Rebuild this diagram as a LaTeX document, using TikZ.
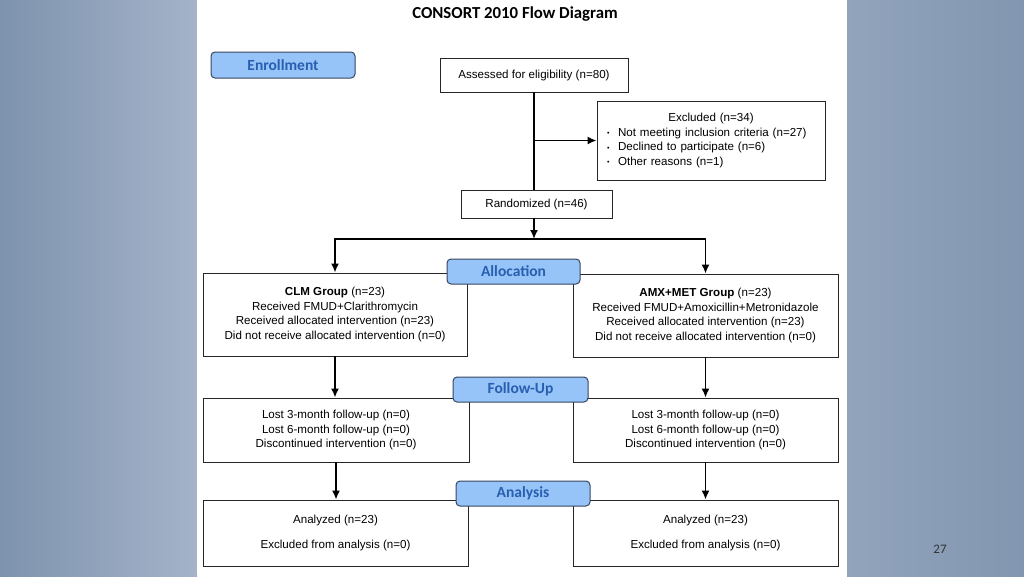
\documentclass[tikz,border=0pt]{standalone}
\usepackage{fontspec}
\setmainfont{Liberation Sans}
\newfontfamily\calibri{Carlito}
\usetikzlibrary{arrows.meta}
\definecolor{slatebg}{RGB}{126,147,174}
\definecolor{slatelight}{RGB}{164,179,201}
\definecolor{slatemid}{RGB}{146,164,188}
\definecolor{phasefill}{RGB}{150,195,248}
\definecolor{phasetext}{RGB}{40,95,175}
\definecolor{phaseline}{RGB}{55,70,95}
\newcommand{\exclbullet}{\makebox[11pt][l]{\raisebox{0.5pt}{\scriptsize\textbullet}}}
\tikzset{
	box/.style={draw=black!85, line width=0.9pt, fill=white, align=center, font=\fontsize{11.6}{14.5}\selectfont},
	phase/.style={draw=phaseline, line width=1pt, fill=phasefill, rounded corners=4pt, text=phasetext, font=\calibri\bfseries\fontsize{15.5}{17}\selectfont, minimum height=25pt},
	flow/.style={line width=1.7pt, -{Latex[length=9pt,width=8pt]}}
}
\begin{document}
\begin{tikzpicture}[x=1pt, y=-1pt]
	\useasboundingbox (0,0) rectangle (1024,576);
	\shade[left color=slatebg, right color=slatelight] (0,0) rectangle (197,576);
	\shade[left color=slatemid, right color=slatebg!90!slatelight] (847,0) rectangle (1024,576);
	\fill[white] (197,0) rectangle (847,573);
	\node[font=\calibri\bfseries\fontsize{16.8}{19}\selectfont] (title) at (515,14) {CONSORT 2010 Flow Diagram};
	\node[text=black!80, font=\calibri\fontsize{13}{14}\selectfont] (page) at (940,549) {27};

	\node[box, minimum width=188pt, minimum height=34pt] (assess) at (534,75) {Assessed for eligibility (n=80)};
	\node[box, minimum width=228pt, minimum height=79pt, text width=208pt, inner xsep=10pt, align=left] (excl) at (711,140.5) {\centering Excluded (n=34)\par\raggedright
		\exclbullet Not meeting inclusion criteria (n=27)\\
		\exclbullet Declined to participate (n=6)\\
		\exclbullet Other reasons (n=1)};
	\node[box, minimum width=151pt, minimum height=28pt] (rand) at (536.5,204) {Randomized (n=46)};
	\node[box, minimum width=264pt, minimum height=83pt] (clm) at (335,314.5) {\textbf{CLM Group} (n=23)\\Received FMUD+Clarithromycin\\Received allocated intervention (n=23)\\Did not receive allocated intervention (n=0)};
	\node[box, minimum width=265pt, minimum height=83pt] (amx) at (705.5,315.5) {\textbf{AMX+MET Group} (n=23)\\Received FMUD+Amoxicillin+Metronidazole\\Received allocated intervention (n=23)\\Did not receive allocated intervention (n=0)};
	\node[box, minimum width=266pt, minimum height=64pt] (fupl) at (336,430) {Lost 3-month follow-up (n=0)\\Lost 6-month follow-up (n=0)\\Discontinued intervention (n=0)};
	\node[box, minimum width=265pt, minimum height=64pt] (fupr) at (705.5,430) {Lost 3-month follow-up (n=0)\\Lost 6-month follow-up (n=0)\\Discontinued intervention (n=0)};
	\node[box, minimum width=265pt, minimum height=66pt] (anal) at (335.5,533) {Analyzed (n=23)\\[10pt]Excluded from analysis (n=0)};
	\node[box, minimum width=265pt, minimum height=66pt] (anar) at (705.5,533) {Analyzed (n=23)\\[10pt]Excluded from analysis (n=0)};

	\coordinate (split) at (534,239);
	\draw[line width=1.7pt] (assess.south) -- (assess.south |- rand.north);
	\draw[flow] (assess.south |- excl.west) -- (excl.west);
	\draw[flow] (split |- rand.south) -- (split);
	\draw[flow] (split) -| (clm.north);
	\draw[flow] (split) -| (amx.north);
	\draw[flow] (clm.south) -- (clm.south |- fupl.north);
	\draw[flow] (amx.south) -- (amx.south |- fupr.north);
	\draw[flow] (fupl.south) -- (fupl.south |- anal.north);
	\draw[flow] (fupr.south) -- (fupr.south |- anar.north);

	\node[phase, minimum width=144pt, minimum height=26pt] (enroll) at (283,65) {Enrollment};
	\node[phase, minimum width=133pt] (alloc) at (513.5,271.5) {Allocation};
	\node[phase, minimum width=135pt] (follow) at (520.5,389.5) {Follow-Up};
	\node[phase, minimum width=134pt] (analysis) at (523,493.5) {Analysis};
\end{tikzpicture}
\end{document}
